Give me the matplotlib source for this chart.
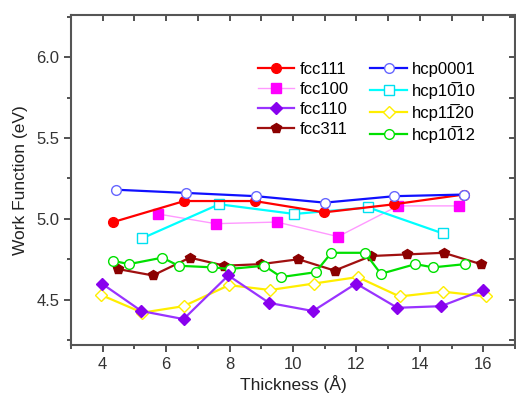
import matplotlib
matplotlib.use("Agg")
import matplotlib.pyplot as plt
from matplotlib.ticker import MultipleLocator

plt.rcParams['font.family'] = ['Liberation Sans', 'DejaVu Sans']

labels = ['fcc111', 'fcc100', 'fcc110', 'fcc311',
          'hcp0001', 'hcp10\u030510', 'hcp11\u030520', 'hcp10\u030512']

fcc111_x = [4.33, 6.57, 8.79, 10.98, 13.19, 15.38]
fcc111_y = [4.98, 5.11, 5.11, 5.04, 5.09, 5.15]

fcc100_x = [5.74, 7.56, 9.49, 11.42, 13.31, 15.22]
fcc100_y = [5.03, 4.97, 4.98, 4.89, 5.08, 5.08]

fcc110_x = [3.97, 5.22, 6.55, 7.96, 9.25, 10.63, 11.99, 13.29, 14.67, 16.0]
fcc110_y = [4.60, 4.43, 4.38, 4.65, 4.48, 4.43, 4.60, 4.45, 4.46, 4.56]

fcc311_x = [4.47, 5.58, 6.75, 7.84, 9.0, 10.17, 11.31, 12.46, 13.6, 14.75, 15.92]
fcc311_y = [4.69, 4.65, 4.76, 4.71, 4.72, 4.75, 4.68, 4.77, 4.78, 4.79, 4.72]

hcp0001_x = [4.41, 6.64, 8.83, 11.0, 13.2, 15.38]
hcp0001_y = [5.18, 5.16, 5.14, 5.10, 5.14, 5.15]

hcp1010_x = [5.25, 7.67, 10.04, 12.38, 14.72]
hcp1010_y = [4.88, 5.09, 5.03, 5.07, 4.91]

hcp1120_x = [3.94, 5.25, 6.55, 7.98, 9.28, 10.66, 12.04, 13.36, 14.72, 16.1]
hcp1120_y = [4.53, 4.42, 4.46, 4.59, 4.56, 4.60, 4.64, 4.52, 4.55, 4.52]

hcp1012_x = [4.33, 4.83, 5.88, 6.39, 7.46, 8.0, 9.09, 9.63, 10.71, 11.21, 12.27, 12.77, 13.86, 14.42, 15.43]
hcp1012_y = [4.74, 4.72, 4.76, 4.71, 4.70, 4.69, 4.71, 4.64, 4.67, 4.79, 4.79, 4.66, 4.72, 4.70, 4.72]

fig = plt.figure(figsize=(5.16, 3.99), dpi=100)
ax = fig.add_axes([71/516, 1-345/399, 444/516, 330/399])

lw = 1.6
ms = 7
h = {}
h['fcc311'], = ax.plot(fcc311_x, fcc311_y, color='#a01010', lw=lw, marker='p', ms=ms,
                       mfc='#8b0000', mec='#8b0000')
h['hcp1012'], = ax.plot(hcp1012_x, hcp1012_y, color='#00e000', lw=lw, marker='o', ms=ms,
                        mfc='white', mec='#00e000')
h['hcp1120'], = ax.plot(hcp1120_x, hcp1120_y, color='#ffee00', lw=lw, marker='D', ms=ms-1,
                        mfc='white', mec='#ffee00')
h['fcc110'], = ax.plot(fcc110_x, fcc110_y, color='#9933ff', lw=lw, marker='D', ms=ms-1,
                       mfc='#8800ee', mec='#8800ee')
h['fcc100'], = ax.plot(fcc100_x, fcc100_y, color='#ff99ff', lw=1.0, marker='s', ms=ms-0.5,
                       mfc='#ff00ff', mec='#ff00ff')
h['hcp1010'], = ax.plot(hcp1010_x, hcp1010_y, color='#00ffff', lw=lw, marker='s', ms=ms,
                        mfc='white', mec='#00e0f0')
h['fcc111'], = ax.plot(fcc111_x, fcc111_y, color='#ff0000', lw=lw, marker='o', ms=ms,
                       mfc='#ff0000', mec='#ff0000')
h['hcp0001'], = ax.plot(hcp0001_x, hcp0001_y, color='#1010ff', lw=lw, marker='o', ms=ms,
                        mfc='white', mec='#6666ff')

order = ['fcc111', 'fcc100', 'fcc110', 'fcc311', 'hcp0001', 'hcp1010', 'hcp1120', 'hcp1012']
ax.legend([h[k] for k in order], labels, ncol=2, frameon=False, fontsize=12,
          loc='upper left', bbox_to_anchor=(0.402, 0.882), handlelength=2.2,
          labelspacing=0.3, columnspacing=1.3, handletextpad=0.3, borderpad=0)

ax.set_xlim(3, 17)
ax.set_ylim(4.22, 6.26)
ax.xaxis.set_major_locator(MultipleLocator(2))
ax.xaxis.set_minor_locator(MultipleLocator(1))
ax.yaxis.set_major_locator(MultipleLocator(0.5))
ax.yaxis.set_minor_locator(MultipleLocator(0.25))
ax.tick_params(which='both', direction='out', top=False, right=False,
               labelsize=12, colors='#333333', width=1.2)
ax.tick_params(which='major', length=5)
ax.tick_params(which='minor', length=3)
sec_x = ax.secondary_xaxis('top')
sec_x.xaxis.set_major_locator(MultipleLocator(1))
sec_x.tick_params(direction='in', length=4, width=1.2, labeltop=False, colors='#333333')
sec_x.spines['top'].set_visible(False)
sec_y = ax.secondary_yaxis('right')
sec_y.yaxis.set_major_locator(MultipleLocator(0.25))
sec_y.tick_params(direction='in', length=4, width=1.2, labelright=False, colors='#333333')
sec_y.spines['right'].set_visible(False)
ax.yaxis.set_major_formatter(matplotlib.ticker.FormatStrFormatter('%.1f'))

for s in ax.spines.values():
    s.set_linewidth(1.5)
    s.set_color('#555555')

ax.set_xlabel('Thickness (Å)', fontsize=12.5, color='#222222', labelpad=2)
ax.set_ylabel('Work Function (eV)', fontsize=12.5, color='#222222', labelpad=6)

fig.savefig('out.png', dpi=100)
